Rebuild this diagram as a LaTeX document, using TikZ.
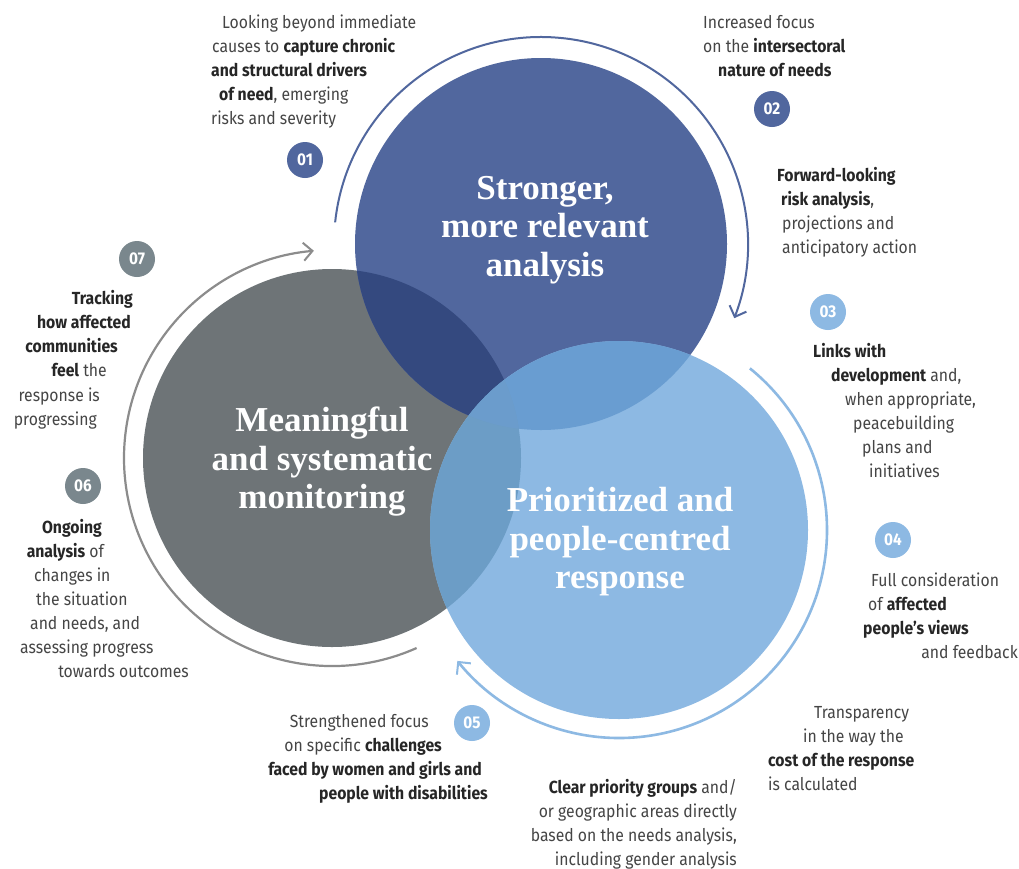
\documentclass[tikz,border=0pt]{standalone}
\usepackage{fontspec}
\setmainfont{Fira Sans}[FakeStretch=0.9]
\newfontfamily\headfont{Liberation Serif}
\usetikzlibrary{arrows.meta}
\definecolor{cblue}{HTML}{51679E}
\definecolor{cgray}{HTML}{6E7477}
\definecolor{clight}{HTML}{8DB9E3}
\definecolor{cbg}{HTML}{34497F}
\definecolor{cbl}{HTML}{699DD1}
\definecolor{cgl}{HTML}{6C9DC6}
\definecolor{cgbl}{HTML}{6B9CCC}
\definecolor{garc}{HTML}{8C8C8C}
\definecolor{gbadge}{HTML}{7A878D}
\definecolor{txtc}{HTML}{454545}
\definecolor{txtb}{HTML}{262626}
\newcommand\B[1]{{\bfseries\color{txtb}#1}}
\tikzset{
  txt/.style={font=\fontsize{17.5}{20}\selectfont, text=txtc, inner sep=0pt},
  badge/.style={circle, minimum size=36pt, inner sep=0pt, text=white, font=\bfseries\fontsize{17}{19}\selectfont},
  head/.style={font=\headfont\bfseries\fontsize{35}{38.5}\selectfont, text=white, align=center, inner sep=0pt},
  ring/.style={line width=2.2pt, -{Straight Barb[length=9pt,width=18pt,line width=2pt]}},
}
\newcommand\tw[4]{\node[txt,anchor=base west] (#1) at (#2,#3) {#4};}
\newcommand\te[4]{\node[txt,anchor=base east] (#1) at (#2,#3) {#4};}
\begin{document}
\begin{tikzpicture}[x=1pt,y=-1pt]
\useasboundingbox (0,0) rectangle (1019,868);
\fill[white] (0,0) rectangle (1019,868);
% circle centres
\coordinate (cb) at (541,244);
\coordinate (cg) at (332,458);
\coordinate (cl) at (619,530);
% base circles
\node[circle, fill=cgray, minimum size=378pt, inner sep=0pt] (gcirc) at (cg) {};
\node[circle, fill=cblue, minimum size=372pt, inner sep=0pt] (bcirc) at (cb) {};
\node[circle, fill=clight, minimum size=378pt, inner sep=0pt] (lcirc) at (cl) {};
% overlaps
\begin{scope}
  \clip (cb) circle[radius=186pt];
  \fill[cbg] (cg) circle[radius=189pt];
\end{scope}
\begin{scope}
  \clip (cl) circle[radius=189pt];
  \fill[cbl] (cb) circle[radius=186pt];
  \fill[cgl] (cg) circle[radius=189pt];
  \clip (cb) circle[radius=186pt];
  \fill[cgbl] (cg) circle[radius=189pt];
\end{scope}
% rings with arrows
\draw[ring, cblue, line width=2pt] (cb) ++(174:207pt) arc[start angle=174, end angle=-21, radius=207pt];
\draw[ring, garc] (cg) ++(294:208pt) arc[start angle=294, end angle=95, radius=208pt];
\draw[ring, clight, line width=2.6pt] (cl) ++(51:208pt) arc[start angle=51, end angle=-141, radius=208pt];
% headings
\node[head] (h1) at (545,230) {Stronger,\\more relevant\\analysis};
\node[head] (h2) at (322,462) {Meaningful\\and systematic\\monitoring};
\node[head] (h3) at (620,542) {Prioritized and\\people-centred\\response};
% badges
\node[badge, fill=cblue] (n01) at (305,160) {01};
\node[badge, fill=cblue] (n02) at (772,109) {02};
\node[badge, fill=clight] (n03) at (828,312) {03};
\node[badge, fill=clight] (n04) at (893,540) {04};
\node[badge, fill=clight] (n05) at (472,723) {05};
\node[badge, fill=gbadge] (n06) at (83,486) {06};
\node[badge, fill=gbadge] (n07) at (137,259) {07};
% block 01
\tw{a1}{222}{28}{Looking beyond immediate}
\tw{a2}{212}{52}{causes to \B{capture chronic}}
\tw{a3}{211}{76}{\B{and structural drivers}}
\tw{a4}{219}{100}{\B{of need}, emerging}
\tw{a5}{211}{124}{risks and severity}
% block 02
\tw{b1}{703}{28}{Increased focus}
\tw{b2}{703}{52}{on the \B{intersectoral}}
\tw{b3}{718}{76}{\B{nature of needs}}
% forward-looking
\tw{c1}{777}{181}{\B{Forward-looking}}
\tw{c2}{781}{205}{\B{risk analysis},}
\tw{c3}{782}{229}{projections and}
\tw{c4}{782}{253}{anticipatory action}
% block 03
\tw{d1}{813}{357}{\B{Links with}}
\tw{d2}{831}{381}{\B{development} and,}
\tw{d3}{845}{405}{when appropriate,}
\tw{d4}{853}{429}{peacebuilding}
\tw{d5}{862}{453}{plans and}
\tw{d6}{869}{477}{initiatives}
% block 04
\tw{e1}{871}{586}{Full consideration}
\tw{e2}{868}{610}{of \B{affected}}
\tw{e3}{863}{634}{\B{people’s views}}
\te{e4}{1018}{658}{and feedback}
% transparency
\tw{f1}{814}{718}{Transparency}
\tw{f2}{803}{742}{in the way the}
\tw{f3}{768}{766}{\B{cost of the response}}
\tw{f4}{768}{790}{is calculated}
% clear priority
\te{g1}{737}{793}{\B{Clear priority groups} and/}
\te{g2}{737}{817}{or geographic areas directly}
\te{g3}{737}{841}{based on the needs analysis,}
\te{g4}{737}{865}{including gender analysis}
% block 05
\te{h5a}{429}{727}{Strengthened focus}
\te{h5b}{442}{751}{on specific \B{challenges}}
\te{h5c}{482}{775}{\B{faced by women and girls and}}
\te{h5d}{488}{799}{\B{people with disabilities}}
% block 07
\te{i1}{133}{304}{\B{Tracking}}
\te{i2}{131}{328}{\B{how affected}}
\te{i3}{118}{352}{\B{communities}}
\te{i4}{107}{376}{\B{feel} the}
\te{i5}{100}{401}{response is}
\te{i6}{97}{425}{progressing}
% block 06
\te{j1}{102}{533}{\B{Ongoing}}
\te{j2}{104}{557}{\B{analysis} of}
\tw{j3}{34}{581}{changes in}
\tw{j4}{36}{605}{the situation}
\tw{j5}{30}{629}{and needs, and}
\tw{j6}{20}{653}{assessing progress}
\te{j7}{189}{677}{towards outcomes}
\end{tikzpicture}
\end{document}
